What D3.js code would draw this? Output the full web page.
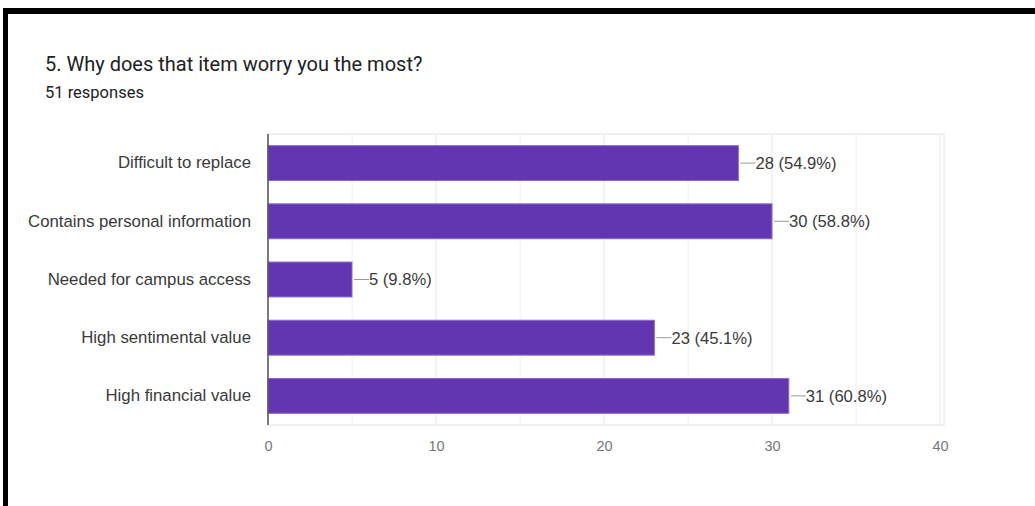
<!DOCTYPE html>
<html>
<head>
<meta charset="utf-8">
<script src="https://cdn.jsdelivr.net/npm/d3@7"></script>
<style>
  html, body { margin: 0; padding: 0; background: #fff; }
  svg { display: block; }
</style>
</head>
<body>
<svg id="chart" width="1035" height="506"></svg>
<script>
// Survey question data
const title = "5. Why does that item worry you the most?";
const subtitle = "51 responses";
const categories = [
  "Difficult to replace",
  "Contains personal information",
  "Needed for campus access",
  "High sentimental value",
  "High financial value"
];
const counts = [28, 30, 5, 23, 31];
const percentLabels = ["54.9%", "58.8%", "9.8%", "45.1%", "60.8%"];
const tickValues = [0, 10, 20, 30, 40];
const gridValues = [5, 10, 15, 20, 25, 30, 35, 40];

const svg = d3.select("#chart");

// page frame (black edges on top and left)
svg.append("rect").attr("x", 3).attr("y", 8).attr("width", 1032).attr("height", 6).attr("fill", "#000");
svg.append("rect").attr("x", 3).attr("y", 8).attr("width", 5).attr("height", 498).attr("fill", "#000");

// headings
svg.append("text")
  .attr("x", 45).attr("y", 71)
  .attr("font-family", "Roboto, sans-serif")
  .attr("font-size", 20)
  .attr("fill", "#202124")
  .text(title);
svg.append("text")
  .attr("x", 45).attr("y", 98)
  .attr("font-family", "Roboto, sans-serif")
  .attr("font-size", 16.5)
  .attr("fill", "#202124")
  .text(subtitle);

const plot = { left: 268, right: 940, top: 134, bottom: 425 };

const x = d3.scaleLinear().domain([0, 40]).range([plot.left, plot.right]);
const y = d3.scaleBand().domain(categories).range([plot.top, plot.bottom])
  .paddingInner(0.4).paddingOuter(0.2);

const labelFont = "'Liberation Sans', Arial, sans-serif";

// plot frame and gridlines
svg.append("rect")
  .attr("x", plot.left).attr("y", plot.top)
  .attr("width", plot.right - plot.left + 4).attr("height", plot.bottom - plot.top)
  .attr("fill", "none").attr("stroke", "#ececec").attr("stroke-width", 1.5);

svg.append("g").selectAll("line").data(gridValues).join("line")
  .attr("x1", d => x(d)).attr("x2", d => x(d))
  .attr("y1", plot.top).attr("y2", plot.bottom)
  .attr("stroke", d => d % 10 === 0 ? "#e6e6e6" : "#f0f0f0")
  .attr("stroke-width", 1);

// bars
svg.append("g").selectAll("rect").data(counts).join("rect")
  .attr("x", x(0))
  .attr("y", (d, i) => y(categories[i]))
  .attr("width", d => x(d) - x(0))
  .attr("height", y.bandwidth())
  .attr("fill", "#6236b1")
  .attr("stroke", "#8a6ccf")
  .attr("stroke-width", 1);

// zero baseline
svg.append("line")
  .attr("x1", x(0)).attr("x2", x(0))
  .attr("y1", plot.top).attr("y2", plot.bottom)
  .attr("stroke", "#555").attr("stroke-width", 1.5);

// category labels
const yAxis = d3.axisLeft(y).tickSize(0).tickPadding(17);
const gy = svg.append("g").attr("transform", `translate(${plot.left},0)`).call(yAxis);
gy.select(".domain").remove();
gy.selectAll("text")
  .attr("font-family", labelFont)
  .attr("font-size", 16.8)
  .attr("fill", "#3a3a3a");

// x axis tick labels
const xAxis = d3.axisBottom(x).tickValues(tickValues).tickSize(0).tickPadding(16);
const gx = svg.append("g").attr("transform", `translate(0,${plot.bottom})`).call(xAxis);
gx.select(".domain").remove();
gx.selectAll("text")
  .attr("font-family", labelFont)
  .attr("font-size", 14.5)
  .attr("fill", "#777");

// value annotations with leader lines
const ann = svg.append("g").selectAll("g").data(counts).join("g")
  .attr("transform", (d, i) => `translate(${x(d)},${y(categories[i]) + y.bandwidth() / 2})`);
ann.append("line")
  .attr("x1", 2).attr("x2", 17).attr("y1", 0).attr("y2", 0)
  .attr("stroke", "#999").attr("stroke-width", 1);
ann.append("text")
  .attr("x", 17).attr("dy", "0.35em")
  .attr("font-family", labelFont)
  .attr("font-size", 16.6)
  .attr("fill", "#3a3a3a")
  .text((d, i) => `${d} (${percentLabels[i]})`);
</script>
</body>
</html>
